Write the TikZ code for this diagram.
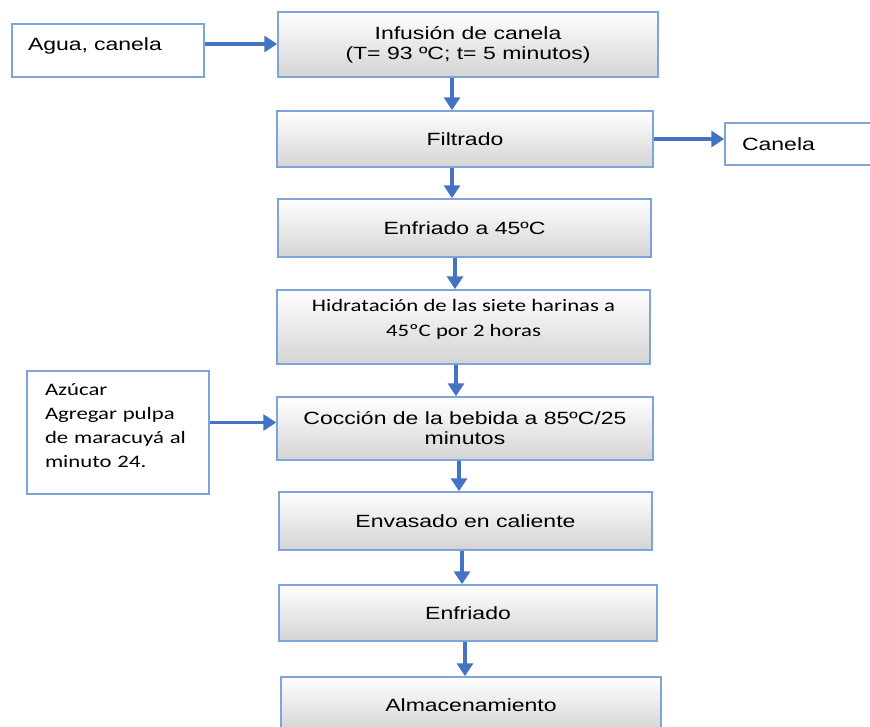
\documentclass[tikz,border=0pt]{standalone}
\usepackage{fontspec}
\setmainfont{Liberation Sans}[FakeStretch=1.3]
\newfontfamily\calibriFont{Carlito}[FakeStretch=1.3]
\usepackage{xcolor}
\definecolor{FLOWCOLOR}{RGB}{68,114,196}
\definecolor{BORDERCOLOR}{RGB}{125,165,220}
\colorlet{SHADECOLOR}{black!17}
\usetikzlibrary{arrows.meta,positioning}
\tikzset{
  basic-style/.style = {
    rectangle, draw=BORDERCOLOR, line width=1.5pt,
    inner sep=0pt,
    font=\fontsize{17.7}{20}\selectfont
  },
  step-style/.style = {
    basic-style,
    top color=white, bottom color=SHADECOLOR,
    minimum width=376pt, minimum height=#1,
    align=center
  },
  step-style/.default = 58pt,
  input-style/.style = {
    basic-style, fill=white,
    align=left, inner xsep=17pt
  },
  calibri-style/.style = {
    font=\calibriFont\fontsize{17.5}{#1}\selectfont
  },
  flow-style/.style = {
    draw=FLOWCOLOR, line width=3.5pt,
    -{Triangle[length=13pt,width=16pt]}
  }
}
\begin{document}
\begin{tikzpicture}[x=1pt,y=-1pt]
  \useasboundingbox (0,0) rectangle (870,726);

  % main column
  \node[step-style=65pt, minimum width=380pt] (inf) at (468,44.5)
    {Infusión de canela\\(T= 93 ºC; t= 5 minutos)};
  \node[step-style=56pt] (fil) at (465,139) {Filtrado};
  \node[step-style, minimum width=373pt] (enf45) at (464.5,228) {Enfriado a 45ºC};
  \node[step-style=74pt, minimum width=373pt, calibri-style=25, text depth=18pt] (hid) at (463.5,327)
    {Hidratación de las siete harinas a\\45ºC por 2 horas};
  \node[step-style=63pt] (coc) at (465,428.5)
    {Cocción de la bebida a 85ºC/25\\minutos};
  \node[step-style, minimum width=373pt] (env) at (465.5,521) {Envasado en caliente};
  \node[step-style=56pt, minimum width=378pt] (enf) at (468,613) {Enfriado};
  \node[step-style=56pt, minimum width=380pt] (alm) at (471,705) {Almacenamiento};

  % side boxes
  \node[input-style, text width=160pt, minimum height=53pt, inner xsep=16pt,
        text depth=12pt] (agua) at (108,50.5)
    {Agua, canela};
  \node[input-style, text width=113pt, minimum height=42pt] (canela) at (798.5,144) {Canela};
  \node[input-style, text width=146pt, minimum height=123pt, inner xsep=18pt,
        calibri-style=24] (azu) at (118,432.5)
    {Azúcar\\Agregar pulpa\\de maracuyá al\\minuto 24.\\[-10pt]\mbox{}};

  % connectors
  \foreach \a/\b/\d in {inf/fil/-16, fil/enf45/-13, enf45/hid/-9.5, hid/coc/-7.5,
                        coc/env/-6, env/enf/-3.5, enf/alm/-3}{
    \path ([xshift=\d pt]\a.south) coordinate (top);
    \draw[flow-style] (top) -- (top |- \b.north);
  }
  \path ([yshift=6.5pt]agua.east) coordinate (aguaOut);
  \draw[flow-style] (aguaOut) -- (aguaOut -| inf.west);
  \draw[flow-style] (fil.east) -- (fil.east -| canela.west);
  \path ([yshift=6pt]coc.west) coordinate (cocIn);
  \draw[flow-style] (cocIn -| azu.east) -- (cocIn);
\end{tikzpicture}
\end{document}
